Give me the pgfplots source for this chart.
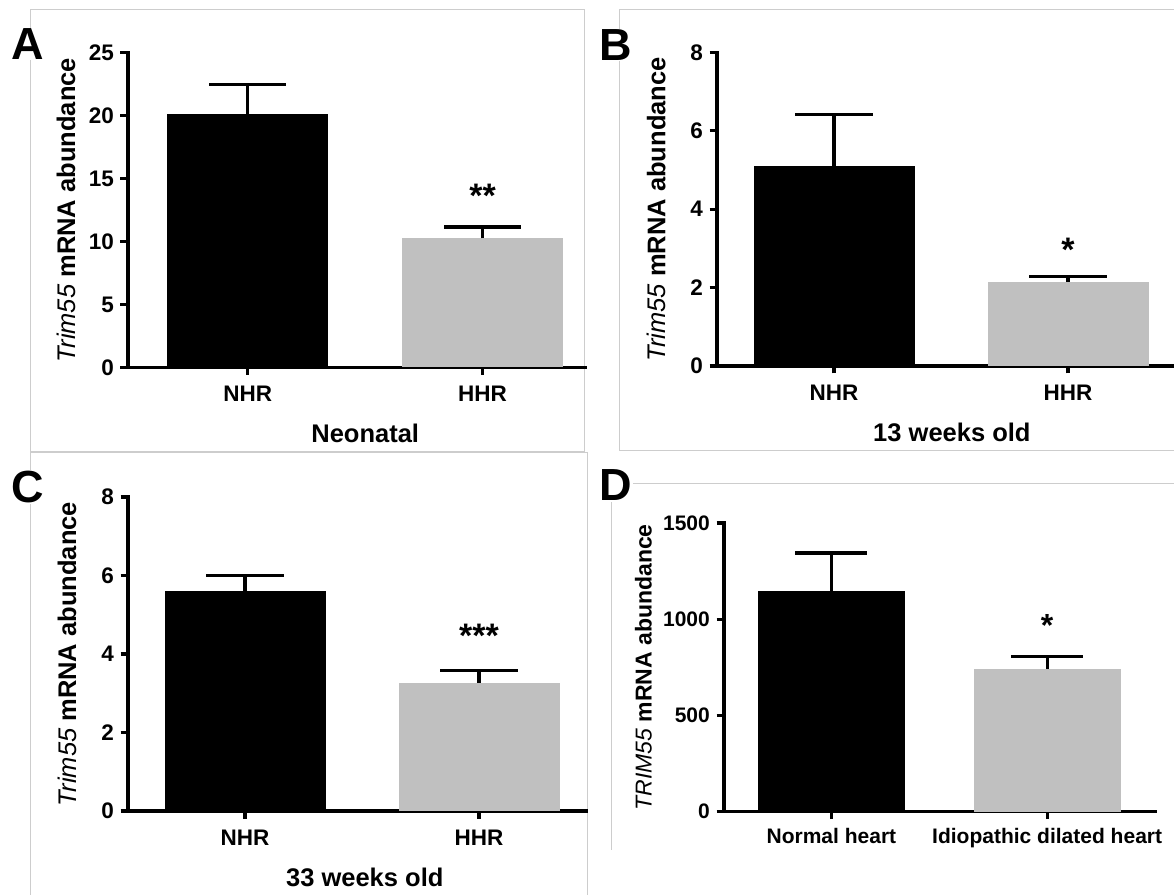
\documentclass[border=0pt]{standalone}
\usepackage{fontspec}
\setmainfont{Liberation Sans}
\usepackage{pgfplots}
\pgfplotsset{compat=1.18}

\definecolor{barg}{RGB}{192,192,192}
\definecolor{frameg}{RGB}{205,205,205}

\pgfplotsset{
  panel/.style={
    scale only axis, anchor=south west, clip=false,
    axis x line=bottom, axis y line=left,
    axis line style={-, line width=3.2pt, line cap=rect, black},
    tick style={line width=3.2pt, black},
    tick align=outside, major tick length=7.5pt,
    xtick={0,1}, minor tick num=0, ymin=0,
    /pgf/number format/assume math mode=true,
    /pgf/number format/1000 sep={},
    scaled y ticks=false,
    tick label style={font=\bfseries\fontsize{22.5}{27}\selectfont},
    yticklabel style={anchor=east, inner sep=0pt},
    xticklabel style={anchor=north, inner sep=0pt},
    yticklabel shift=6.5pt, xticklabel shift=11pt,
    label style={font=\bfseries\fontsize{25.5}{30}\selectfont},
    ylabel style={anchor=center},
    xlabel style={anchor=center},
  },
  barA/.style={ybar, bar shift=0pt, draw=none,
    error bars/.cd, y dir=plus, y explicit, error mark=|,
    error bar style={draw=black, line width=3.2pt},
    error mark options={draw=black, line width=3.2pt, mark size=#1},
    /pgfplots/.cd},
  barA/.default=38.5pt,
}

\begin{document}
\begin{tikzpicture}
\path[use as bounding box] (0,0) rectangle (1174pt,894pt);

% panel frames
\draw[frameg, line width=1pt] (30.5pt,884.7pt) rectangle (584pt,442.5pt);
\draw[frameg, line width=1pt] (1180pt,884.7pt) -- (619pt,884.7pt) -- (619pt,443pt) -- (1180pt,443pt);
\draw[frameg, line width=1pt] (30.5pt,-5pt) -- (30.5pt,441.5pt) -- (587pt,441.5pt) -- (587pt,-5pt);
\draw[frameg, line width=1pt] (1180pt,410pt) -- (611pt,410pt) -- (611pt,44pt);

% ---------------- Panel A ----------------
\begin{axis}[panel, at={(128pt,526.5pt)}, width=457pt, height=314.8pt,
  xmin=-0.51, xmax=1.436, ymax=25, ytick={0,5,10,15,20,25},
  xticklabels={NHR,HHR},
  ylabel={{\fontseries{m}\itshape Trim55} mRNA abundance},
  ylabel style={at={(axis description cs:-0.1355,0.5)}},
  xlabel={Neonatal},
  xlabel style={at={(axis description cs:0.519,0)}, yshift=-66pt},
]
\addplot[barA, bar width=161pt, fill=black] coordinates {(0,20.15) +- (0,2.35)};
\addplot[barA, bar width=161pt, fill=barg] coordinates {(1,10.25) +- (0,0.9)};
\node[font=\bfseries\fontsize{34}{40}\selectfont] at (axis cs:1,13.6) {**};
\end{axis}

% ---------------- Panel B ----------------
\begin{axis}[panel, at={(717pt,528pt)}, width=457pt, height=313.5pt,
  xmin=-0.5, xmax=1.453, ymax=8, ytick={0,2,4,6,8},
  xticklabels={NHR,HHR},
  ylabel={{\fontseries{m}\itshape Trim55} mRNA abundance},
  ylabel style={at={(axis description cs:-0.133,0.5)}},
  xlabel={13 weeks old},
  xlabel style={at={(axis description cs:0.514,0)}, yshift=-66.5pt},
]
\addplot[barA=39pt, bar width=161pt, fill=black] coordinates {(0,5.11) +- (0,1.30)};
\addplot[barA=39pt, bar width=161pt, fill=barg] coordinates {(1,2.15) +- (0,0.14)};
\node[font=\bfseries\fontsize{34}{40}\selectfont] at (axis cs:1,2.96) {*};
\end{axis}

% ---------------- Panel C ----------------
\begin{axis}[panel, at={(128pt,83pt)}, width=458pt, height=314pt,
  xmin=-0.5, xmax=1.457, ymax=8, ytick={0,2,4,6,8},
  xticklabels={NHR,HHR},
  ylabel={{\fontseries{m}\itshape Trim55} mRNA abundance},
  ylabel style={at={(axis description cs:-0.133,0.5)}},
  xlabel={33 weeks old},
  xlabel style={at={(axis description cs:0.517,0)}, yshift=-66pt},
]
\addplot[barA=39pt, bar width=161pt, fill=black] coordinates {(0,5.61) +- (0,0.38)};
\addplot[barA=39pt, bar width=161pt, fill=barg] coordinates {(1,3.27) +- (0,0.30)};
\node[font=\bfseries\fontsize{34}{40}\selectfont] at (axis cs:1,4.46) {***};
\end{axis}

% ---------------- Panel D ----------------
\begin{axis}[panel, at={(724pt,82.3pt)}, width=431pt, height=288.7pt,
  xmin=-0.498, xmax=1.5, ymax=1500, ytick={0,500,1000,1500},
  xticklabels={Normal heart,Idiopathic dilated heart},
  tick label style={font=\bfseries\fontsize{21}{25}\selectfont},
  xticklabel shift=9pt,
  label style={font=\bfseries\fontsize{23}{27}\selectfont},
  ylabel={{\fontseries{m}\itshape TRIM55} mRNA abundance},
  ylabel style={at={(axis description cs:-0.187,0.5)}},
]
\addplot[barA=36pt, bar width=147pt, fill=black] coordinates {(0,1146) +- (0,198)};
\addplot[barA=36pt, bar width=147pt, fill=barg] coordinates {(1,742) +- (0,66)};
\node[font=\bfseries\fontsize{32}{38}\selectfont] at (axis cs:1,970) {*};
\end{axis}

% panel letters
\node[fill=white, inner sep=1pt, font=\bfseries\fontsize{45}{50}\selectfont] at (27.5pt,850pt) {A};
\node[fill=white, inner sep=1pt, font=\bfseries\fontsize{45}{50}\selectfont] at (616pt,849pt) {B};
\node[fill=white, inner sep=1pt, font=\bfseries\fontsize{45}{50}\selectfont] at (27.5pt,407pt) {C};
\node[fill=white, inner sep=1pt, font=\bfseries\fontsize{45}{50}\selectfont] at (615.5pt,408.5pt) {D};
\end{tikzpicture}
\end{document}
